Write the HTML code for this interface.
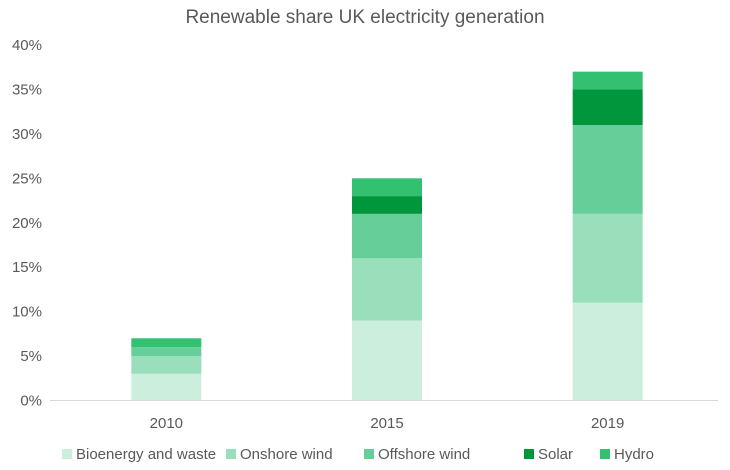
<!DOCTYPE html>
<html><head><meta charset="utf-8"><style>
body{margin:0;background:#fff;font-family:"Liberation Sans",sans-serif;}
svg text{font-family:"Liberation Sans",sans-serif;fill:#595959;}
</style></head><body>
<svg id="chart" width="730" height="465" xmlns="http://www.w3.org/2000/svg">
<text x="365" y="23" text-anchor="middle" font-size="19">Renewable share UK electricity generation</text>
<g id="grid"></g><g id="bars"></g><g id="axes"></g><g id="legend"></g>
</svg>
<script>
const categories=["2010","2015","2019"];
const seriesNames=["Bioenergy and waste","Onshore wind","Offshore wind","Solar","Hydro"];
const bioenergy=[3,9,11];
const onshore=[2,7,10];
const offshore=[1,5,10];
const solar=[0,2,4];
const hydro=[1,2,2];
const yTicks=[0,5,10,15,20,25,30,35,40];
const colors=["#ccefdd","#99dfbb","#66cf99","#00963c","#33c070"];
const series=[bioenergy,onshore,offshore,solar,hydro];
const NS="http://www.w3.org/2000/svg";
const x0=56,x1=718,yBase=400.5,yTop=45;
const y=v=>yBase-(v/40)*(yBase-yTop);
const band=(x1-x0)/categories.length;
const xc=i=>x0+band*(i+0.5);
const bw=70;
function mk(t,a,p){const e=document.createElementNS(NS,t);for(const k in a)e.setAttribute(k,a[k]);p.appendChild(e);return e;}
const axes=document.getElementById('axes');
yTicks.forEach(t=>{
 const tx=mk('text',{x:42,y:y(t)+5,'text-anchor':'end','font-size':15},axes);
 tx.textContent=t+'%';
 
 
});
const ax=mk('line',{x1:x0-6,x2:x1,y1:yBase,y2:yBase,stroke:'#d9d9d9','stroke-width':1},axes);


const bars=document.getElementById('bars');
categories.forEach((c,i)=>{
 let acc=0;
 series.forEach((s,j)=>{
  const v=s[i];
  if(v>0){
   const r=mk('rect',{x:xc(i)-bw/2,y:y(acc+v),width:bw,height:y(acc)-y(acc+v),fill:colors[j]},bars);
   
   
  }
  acc+=v;
 });
 const tx=mk('text',{x:xc(i),y:428,'text-anchor':'middle','font-size':15},axes);
 tx.textContent=c;
 
 
});
const lg=document.getElementById('legend');
const lx=[62,226,364,524,600];
seriesNames.forEach((n,j)=>{
 const g=mk('g',{},lg);
 
 
 mk('rect',{x:lx[j],y:449,width:10,height:10,fill:colors[j]},g);
 const t=mk('text',{x:lx[j]+14,y:459,'font-size':15},g);
 t.textContent=n;
});
</script>
</body></html>
